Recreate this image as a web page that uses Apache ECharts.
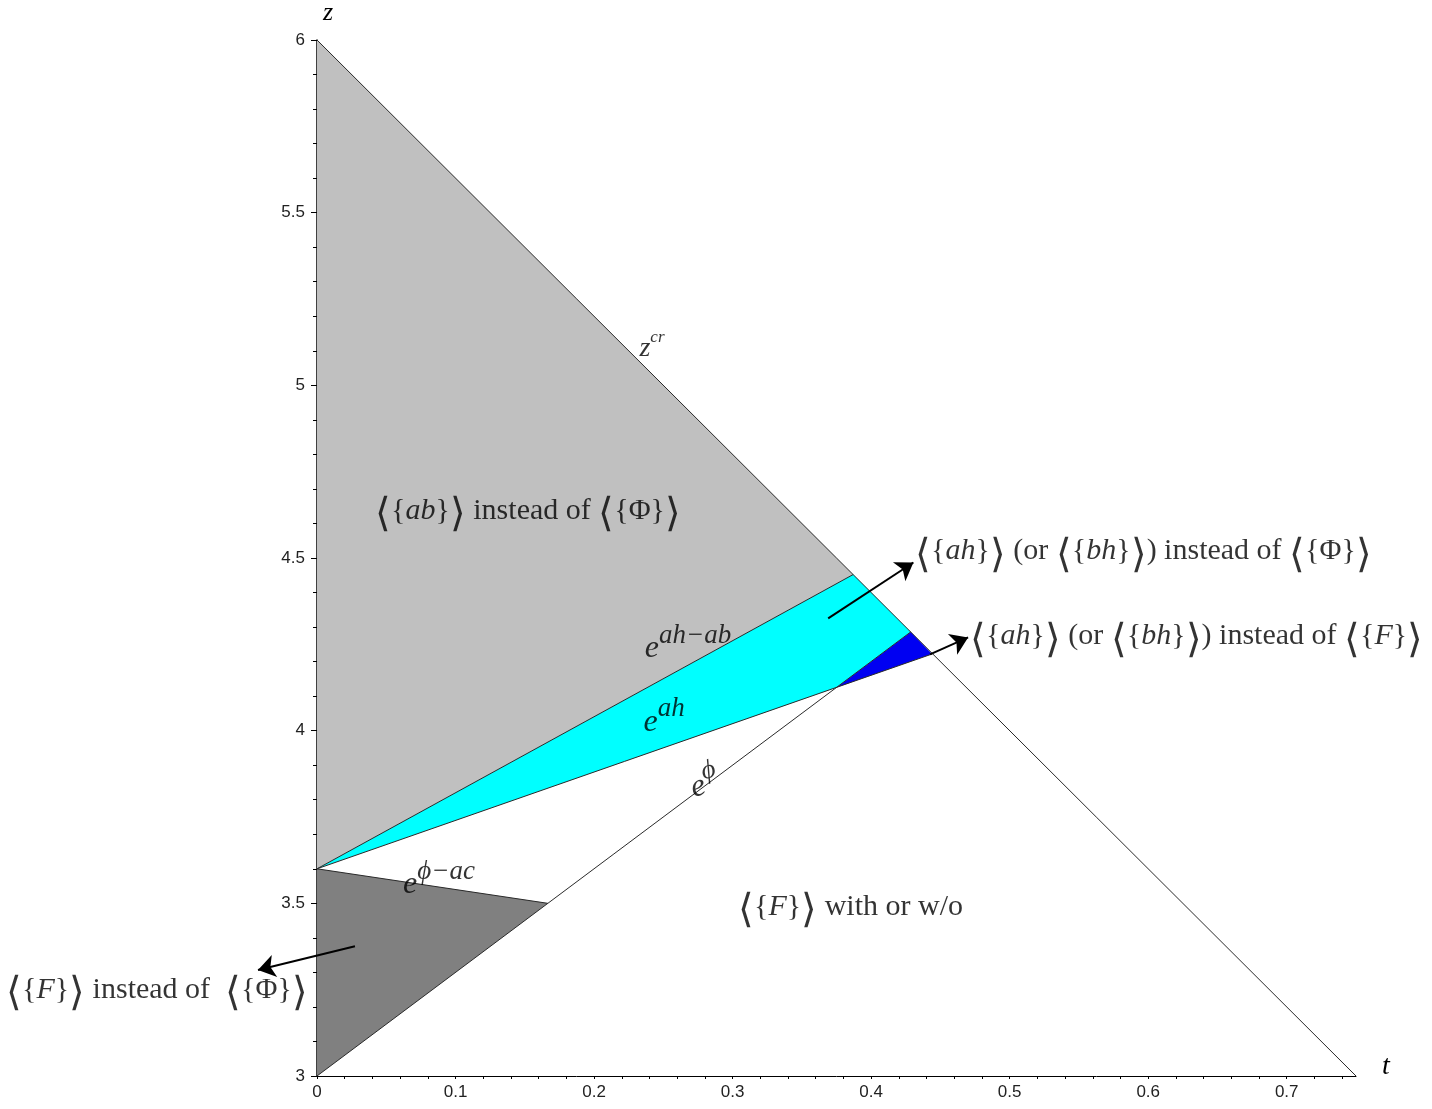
<!DOCTYPE html>
<html>
<head>
<meta charset="utf-8">
<script src="https://cdn.jsdelivr.net/npm/echarts@6/dist/echarts.min.js"></script>
<style>
html,body{margin:0;padding:0;background:#fff;}
#chart{width:1432px;height:1109px;}
</style>
</head>
<body>
<div id="chart"></div>
<script>
// ---- data ----
const xTickLabels = ['0','0.1','0.2','0.3','0.4','0.5','0.6','0.7'];
const yTickLabels = ['3','3.5','4','4.5','5','5.5','6'];

// boundary lines [t, z]
const zcrLine    = [[0, 6], [0.75, 3]];
const eAhAbLine  = [[0, 3.6], [0.387, 4.452]];
const eAhLine    = [[0, 3.6], [0.444, 4.222]];
const ePhiLine   = [[0, 3], [0.4286, 4.286]];
const ePhiAcLine = [[0, 3.6], [0.1667, 3.5]];

// regions (polygon vertices [t, z])
const regionAb  = [[0, 6], [0.387, 4.452], [0, 3.6]];
const regionAh  = [[0, 3.6], [0.387, 4.452], [0.4286, 4.286], [0.375, 4.125]];
const regionAhF = [[0.4286, 4.286], [0.444, 4.222], [0.375, 4.125]];
const regionF   = [[0, 3.6], [0.1667, 3.5], [0, 3]];

// annotation anchor points [t, z]
const annAbPos    = [0.1523, 4.637];
const annAhPhiPos = [0.4317, 4.519];
const annAhFPos   = [0.4714, 4.273];
const annFPhiPos  = [-0.2245, 3.249];
const annFPos     = [0.3851, 3.489];
const lblZcrPos   = [0.2418, 5.106];
const lblAhAbPos  = [0.2678, 4.238];
const lblAhPos    = [0.2505, 4.024];
const lblPhiPos   = [0.2801, 3.842];
const lblPhiAcPos = [0.0881, 3.553];

// arrows [from, to]
const arrowAh  = [[0.369, 4.325], [0.4305, 4.487]];
const arrowAhF = [[0.4425, 4.221], [0.4700, 4.270]];
const arrowF   = [[0.0274, 3.376], [-0.0426, 3.307]];

// ---- chart ----
const SERIF = '"Liberation Serif","Times New Roman",serif';
const BR = '"Noto Sans CJK JP","DejaVu Sans",sans-serif';
const rich = {
  i:  {fontFamily: SERIF, fontSize: 30, fontStyle: 'italic', color: '#000'},
  b:  {fontFamily: BR, fontSize: 40, color: '#000', fontWeight: 100},
  e:  {fontFamily: SERIF, fontSize: 32, fontStyle: 'italic', color: '#000'},
  s:  {fontFamily: SERIF, fontSize: 27, fontStyle: 'italic', color: '#000', padding: [0, 0, 26, 0]},
  z:  {fontFamily: SERIF, fontSize: 28, fontStyle: 'italic', color: '#000'},
  zs: {fontFamily: SERIF, fontSize: 17, fontStyle: 'italic', color: '#000', padding: [0, 0, 22, 0]}
};
const L = '{b|\u27E8}', R = '{b|\u27E9}';

function polySeries(region, color) {
  return {
    type: 'custom', silent: true, animation: false, z: 1,
    data: region,
    renderItem: function (params, api) {
      if (params.dataIndex !== 0) return null;
      return {
        type: 'polygon',
        shape: {points: region.map(p => api.coord(p))},
        style: {fill: color, stroke: null}
      };
    }
  };
}
function lineSeries(pts) {
  return {
    type: 'line', data: pts, symbol: 'none', silent: true, animation: false, z: 3,
    lineStyle: {color: '#2a2a2a', width: 1}
  };
}
function lbl(pos, text, position, extraLabel) {
  return {
    value: pos,
    label: Object.assign({show: true, position: position, distance: 0, formatter: text, rich: rich,
            fontFamily: SERIF, fontSize: 30, color: '#000'}, extraLabel || {})
  };
}

const chart = echarts.init(document.getElementById('chart'), null, {renderer: 'canvas'});
chart.setOption({
  backgroundColor: '#ffffff',
  animation: false,
  grid: {left: 317, right: 76, top: 39, bottom: 33, containLabel: false},
  xAxis: {
    type: 'value', min: 0, max: 0.75, interval: 0.02,
    name: 't', nameLocation: 'end', nameGap: 26,
    nameTextStyle: {fontFamily: SERIF, fontStyle: 'italic', fontSize: 28, color: '#000', verticalAlign: 'bottom', lineHeight: 18},
    axisLine: {show: true, onZero: false, lineStyle: {color: '#000', width: 1}},
    axisTick: {show: true, length: 3, lineStyle: {color: '#000'}},
    axisLabel: {
      margin: 8, fontFamily: '"Liberation Sans",Arial,sans-serif', fontSize: 17, color: '#222',
      showMaxLabel: false,
      formatter: function (v) {
        const k = Math.round(v * 50);
        return (k % 5 === 0 && v < 0.745) ? xTickLabels[k / 5] : '';
      }
    },
    splitLine: {show: false}
  },
  yAxis: {
    type: 'value', min: 3, max: 6, interval: 0.5,
    name: 'z', nameLocation: 'end', nameGap: 14,
    nameTextStyle: {fontFamily: SERIF, fontStyle: 'italic', fontSize: 26, color: '#000', padding: [0, 0, 0, 22]},
    axisLine: {show: true, onZero: false, lineStyle: {color: '#000', width: 1.5}},
    axisTick: {show: true, length: 6, lineStyle: {color: '#000'}},
    minorTick: {show: true, splitNumber: 5, length: 4, lineStyle: {color: '#000'}},
    axisLabel: {
      margin: 12, fontFamily: '"Liberation Sans",Arial,sans-serif', fontSize: 17, color: '#222',
      formatter: function (v, i) { return yTickLabels[Math.round((v - 3) * 2)]; }
    },
    splitLine: {show: false}, minorSplitLine: {show: false}
  },
  series: [
    polySeries(regionAb, '#c0c0c0'),
    polySeries(regionAh, '#00ffff'),
    polySeries(regionAhF, '#0000f2'),
    polySeries(regionF, '#808080'),
    lineSeries(zcrLine),
    lineSeries(eAhAbLine),
    lineSeries(eAhLine),
    lineSeries(ePhiLine),
    lineSeries(ePhiAcLine),
    {
      type: 'lines', coordinateSystem: 'cartesian2d', silent: true, animation: false, clip: false, z: 5,
      symbol: ['none', 'arrow'], symbolSize: 17,
      itemStyle: {color: '#000'},
      lineStyle: {color: '#000', width: 2, type: 'solid', opacity: 1, curveness: 0},
      data: [
        {coords: arrowAh},
        {coords: arrowAhF},
        {coords: arrowF}
      ]
    },
    {
      type: 'scatter', symbolSize: 0, silent: true, animation: false, clip: false, z: 6,
      data: [
        lbl(annAbPos, L + '{' + '{i|ab}' + '}' + R + ' instead of ' + L + '{Φ}' + R, 'inside'),
        lbl(annAhPhiPos, L + '{' + '{i|ah}' + '}' + R + ' (or ' + L + '{' + '{i|bh}' + '}' + R + ') instead of ' + L + '{Φ}' + R, 'right'),
        lbl(annAhFPos, L + '{' + '{i|ah}' + '}' + R + ' (or ' + L + '{' + '{i|bh}' + '}' + R + ') instead of ' + L + '{' + '{i|F}' + '}' + R, 'right'),
        lbl(annFPhiPos, L + '{' + '{i|F}' + '}' + R + ' instead of  ' + L + '{Φ}' + R, 'right'),
        lbl(annFPos, L + '{' + '{i|F}' + '}' + R + ' with or w/o', 'inside'),
        lbl(lblZcrPos, '{z|z}{zs|cr}', 'inside'),
        lbl(lblAhAbPos, '{e|e}{s|ah\u2212ab}', 'inside'),
        lbl(lblAhPos, '{e|e}{s|ah}', 'inside'),
        lbl(lblPhiPos, '{e|e}{s|\u03D5}', 'inside', {rotate: 15}),
        lbl(lblPhiAcPos, '{e|e}{s|\u03D5\u2212ac}', 'inside')
      ]
    }
  ]
});
</script>
</body>
</html>
